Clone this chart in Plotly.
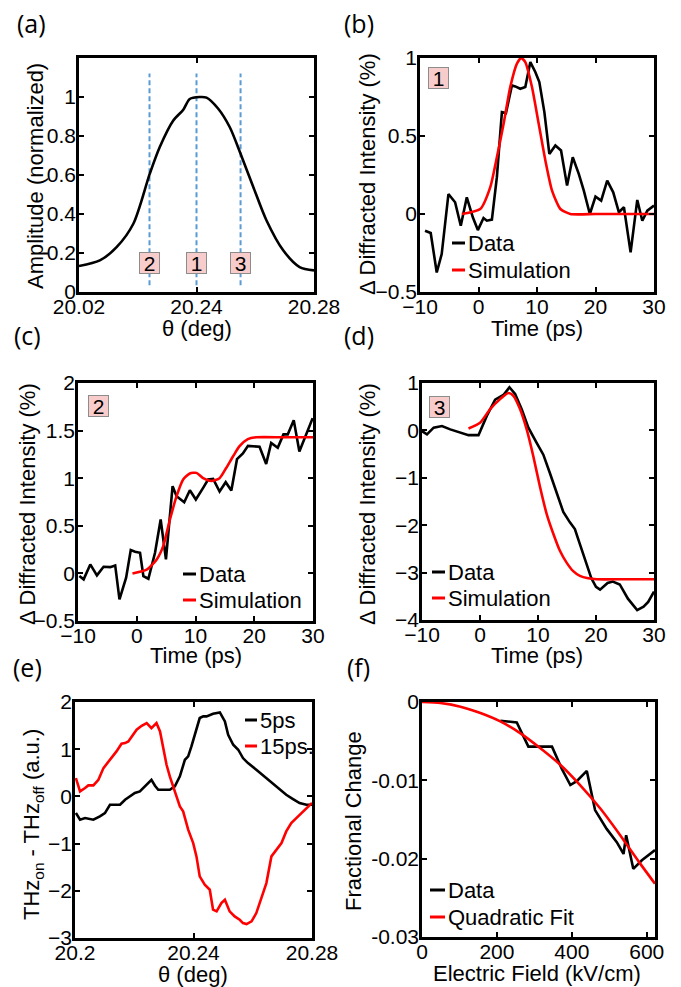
import plotly.graph_objects as go

W, H = 681, 987

# ---------------- data ----------------
# (a) rocking curve
a_theta = [20.2, 20.2071, 20.2128, 20.2185, 20.2241, 20.2275, 20.2321, 20.2355, 20.2377, 20.2411,
           20.2434, 20.2474, 20.2513, 20.2550, 20.2593, 20.2638, 20.2695, 20.2751, 20.28]
a_amp = [0.133, 0.162, 0.23, 0.35, 0.607, 0.744, 0.88, 0.935, 0.99, 1.0,
         0.997, 0.94, 0.846, 0.709, 0.54, 0.368, 0.214, 0.128, 0.111]
marker_theta = [20.224, 20.24, 20.255]
marker_labels = ["2", "1", "3"]
a_xticks = [20.2, 20.24, 20.28]
a_xticktext = ["20.02", "20.24", "20.28"]

# (b) position 1
b_t = [-9.14, -8.17, -7.14, -6.29, -5.14, -4.0, -3.03, -2.0, -0.97, -0.11, 0.86, 1.43, 2.29, 3.14, 4.0,
       4.69, 5.71, 6.29, 7.14, 8.0, 8.86, 9.71, 10.4, 11.26, 12.11, 13.14, 14.11, 15.14, 16.11, 17.14,
       18.0, 19.03, 20.0, 20.97, 22.0, 23.03, 24.0, 24.86, 26.0, 27.14, 28.0, 28.86, 30.0]
b_data = [-0.107, -0.122, -0.375, -0.257, 0.128, 0.075, -0.075, 0.107, -0.021, -0.103, -0.026, -0.043,
          -0.036, 0.236, 0.653, 0.647, 0.824, 0.818, 0.803, 0.814, 0.974, 0.91, 0.846, 0.653, 0.385,
          0.439, 0.407, 0.182, 0.364, 0.257, 0.15, 0.0, 0.111, 0.086, 0.214, 0.139, 0.011, 0.043,
          -0.246, 0.09, -0.043, 0.021, 0.054]
b_sim_t = [-2.86, 0.29, 2.0, 3.14, 4.29, 5.43, 6.57, 7.3, 8.0, 9.14, 10.29, 11.43, 12.57, 14.0, 15.7,
           20.0, 25.0, 30.0]
b_sim = [0.0, 0.032, 0.171, 0.364, 0.578, 0.814, 0.964, 1.0, 0.974, 0.814, 0.578, 0.343, 0.15, 0.032,
         0.0, 0.0, 0.0, 0.0]

# (c) position 2
c_t = [-9.77, -9.04, -7.91, -6.78, -5.65, -4.52, -3.67, -2.94, -1.81, -1.02, -0.28, 0.56, 1.13, 1.98,
       3.11, 4.07, 4.97, 6.10, 6.78, 8.08, 9.04, 10.06, 11.3, 12.15, 13.0, 14.1, 15.14, 16.1, 17.06,
       18.07, 18.93, 20.06, 20.9, 22.03, 22.88, 24.0, 24.97, 25.7, 26.72, 27.68, 28.8, 29.94]
c_data = [-0.028, -0.063, 0.094, -0.021, 0.07, 0.066, 0.084, -0.273, -0.045, 0.245, 0.227, 0.217,
          -0.028, -0.056, 0.217, 0.566, 0.147, 0.916, 0.811, 0.748, 0.874, 0.776, 0.899, 0.986, 0.993,
          0.86, 0.958, 0.87, 1.2, 1.26, 1.34, 1.33, 1.33, 1.15, 1.37, 1.32, 1.46, 1.46, 1.61, 1.28,
          1.46, 1.63]
c_sim_t = [-0.73, 1.7, 3.4, 4.5, 5.65, 6.78, 7.9, 9.04, 10.17, 11.3, 12.7, 14.1, 15.25, 16.4, 17.5,
           18.9, 20.3, 25.0, 30.0]
c_sim = [0.0, 0.04, 0.147, 0.287, 0.566, 0.811, 0.986, 1.05, 1.056, 1.0, 0.97, 1.0, 1.11, 1.23, 1.336,
         1.41, 1.43, 1.43, 1.43]

# (d) position 3
d_t = [-10.0, -9.14, -7.99, -6.56, -5.13, -3.41, -1.98, -0.26, 1.17, 2.61, 4.04, 5.07, 6.05, 7.19,
       8.34, 9.77, 10.92, 12.06, 13.21, 14.36, 15.5, 16.36, 17.22, 18.37, 19.2, 20.0, 20.7, 22.0,
       22.9, 24.1, 25.5, 27.1, 28.2, 29.0, 30.0]
d_data = [-0.014, -0.085, 0.057, 0.092, 0.021, -0.05, -0.1, -0.1, 0.306, 0.647, 0.747, 0.91, 0.768,
          0.448, 0.057, -0.263, -0.512, -0.903, -1.33, -1.72, -1.94, -2.08, -2.4, -2.82, -3.12, -3.3,
          -3.36, -3.22, -3.19, -3.25, -3.55, -3.79, -3.72, -3.62, -3.4]
d_sim_t = [-1.98, 0.0, 1.75, 3.47, 4.9, 5.76, 6.9, 8.05, 9.2, 10.34, 11.49, 12.64, 13.78, 14.93,
           16.07, 17.22, 18.65, 20.1, 25.0, 30.0]
d_sim = [0.04, 0.16, 0.45, 0.66, 0.79, 0.73, 0.45, 0.02, -0.55, -1.19, -1.76, -2.18, -2.54, -2.79,
         -2.97, -3.07, -3.12, -3.14, -3.14, -3.14]

# (e) THz on - off
e_theta_5 = [20.2003, 20.2017, 20.2034, 20.2051, 20.2062, 20.2084, 20.2101, 20.2118, 20.2135, 20.2152,
             20.2169, 20.2185, 20.2202, 20.2219, 20.2236, 20.2247, 20.2258, 20.2270, 20.2281, 20.2298,
             20.2320, 20.2337, 20.2354, 20.2371, 20.2382, 20.2393, 20.2410, 20.2421, 20.2433, 20.2444,
             20.2466, 20.2489, 20.2506, 20.2517, 20.2534, 20.2551, 20.2567, 20.2584, 20.2612, 20.2646,
             20.2680, 20.2713, 20.2736, 20.2758, 20.2781, 20.28]
e_val_5 = [-0.353, -0.494, -0.459, -0.473, -0.494, -0.424, -0.353, -0.177, -0.177, -0.177, -0.071,
           0.0, 0.071, 0.106, 0.212, 0.282, 0.353, 0.226, 0.141, 0.141, 0.141, 0.212, 0.424, 0.777,
           0.847, 1.059, 1.412, 1.66, 1.695, 1.695, 1.751, 1.780, 1.589, 1.307, 1.095, 0.989, 0.812,
           0.706, 0.565, 0.388, 0.212, 0.035, -0.056, -0.141, -0.177, -0.177]
e_theta_15 = [20.2003, 20.2017, 20.2034, 20.2045, 20.2062, 20.2079, 20.2096, 20.2118, 20.2140, 20.2157,
              20.2169, 20.2180, 20.2191, 20.2208, 20.2225, 20.2242, 20.2258, 20.2275, 20.2287, 20.2298,
              20.2309, 20.2320, 20.2331, 20.2343, 20.2354, 20.2365, 20.2382, 20.2399, 20.2410, 20.2421,
              20.2438, 20.2455, 20.2466, 20.2478, 20.2494, 20.2506, 20.2522, 20.2539, 20.2556, 20.2567,
              20.2579, 20.2596, 20.2612, 20.2629, 20.2646, 20.2663, 20.2680, 20.2697, 20.2713, 20.2730,
              20.2747, 20.2764, 20.2781, 20.28]
e_val_15 = [0.388, 0.106, 0.177, 0.233, 0.233, 0.353, 0.600, 0.777, 0.953, 1.116, 1.130, 1.165, 1.271,
            1.412, 1.497, 1.554, 1.448, 1.554, 1.377, 1.024, 0.671, 0.424, 0.212, 0.0, -0.212, -0.318,
            -0.706, -0.989, -1.271, -1.695, -1.871, -1.977, -2.401, -2.436, -2.260, -2.189, -2.436,
            -2.542, -2.613, -2.684, -2.705, -2.648, -2.472, -2.154, -1.836, -1.271, -1.130, -0.989,
            -0.742, -0.565, -0.459, -0.353, -0.247, -0.141]
e_xticks = [20.2, 20.24, 20.28]
e_xticktext = ["20.2", "20.24", "20.28"]

# (f) field dependence
f_field = [209, 253, 284, 347, 373, 396, 413, 440, 462, 493, 520, 538, 545, 564, 587, 622]
f_data = [-0.0024, -0.0026, -0.0057, -0.0057, -0.0085, -0.0106, -0.0101, -0.0088, -0.0138, -0.0162,
          -0.0179, -0.0194, -0.0170, -0.0213, -0.0202, -0.0189]
f_fit_field = [0, 49, 100, 156, 209, 262, 316, 369, 422, 476, 529, 582, 622]
f_fit = [0.0, -0.00013, -0.00056, -0.00141, -0.00248, -0.00397, -0.0059, -0.0080, -0.0106, -0.0136,
         -0.0170, -0.0206, -0.0232]

# legend labels
leg_bcd = ["Data", "Simulation"]
leg_e = ["5ps", "15ps."]
leg_f = ["Data", "Quadratic Fit"]

# ---------------- styling ----------------
FONT = "Liberation Sans"
BLACK = "black"
RED = "#ff0000"
BLUE = "#5b9bd5"
PINK = "#f9cccc"
LW = 2.6
FS = 21
FS_T = 22


def px(x):
    return x / W


def py(y):
    return 1 - y / H


# panel pixel boxes: (left, right, top, bottom)
boxes = {
    "a": (79, 314, 58, 292),
    "b": (420, 654, 58, 292),
    "c": (78, 313, 383, 621),
    "d": (422, 654, 383, 620),
    "e": (75, 312, 702, 938),
    "f": (422, 655, 702, 937),
}
order = ["a", "b", "c", "d", "e", "f"]

fig = go.Figure()

axis_common = dict(
    showline=True, linewidth=2.5, linecolor=BLACK, mirror="allticks",
    ticks="inside", ticklen=5, tickwidth=1.5, tickcolor=BLACK,
    showgrid=False, zeroline=False, automargin=False,
    tickfont=dict(family=FONT, size=FS, color=BLACK),
)

ranges = {
    "a": dict(x=[20.2, 20.28], y=[0, 1.2]),
    "b": dict(x=[-10, 30], y=[-0.5, 1]),
    "c": dict(x=[-10, 30], y=[-0.5, 2]),
    "d": dict(x=[-10, 30], y=[-4, 1]),
    "e": dict(x=[20.2, 20.28], y=[-3, 2]),
    "f": dict(x=[0, 622], y=[-0.03, 0]),
}

for i, k in enumerate(order):
    l, r, t, b = boxes[k]
    n = "" if i == 0 else str(i + 1)
    xa = dict(axis_common, domain=[px(l), px(r)], range=ranges[k]["x"], anchor="y" + n,
              ticklabelstandoff=-6)
    ya = dict(axis_common, domain=[py(b), py(t)], range=ranges[k]["y"], anchor="x" + n,
              ticklabelstandoff=-4)
    fig.update_layout(**{"xaxis" + n: xa, "yaxis" + n: ya})

# tick specifics
fig.update_layout(
    xaxis=dict(tickvals=a_xticks, ticktext=a_xticktext),
    yaxis=dict(tickvals=[0, 0.2, 0.4, 0.6, 0.8, 1]),
    xaxis2=dict(tickvals=[-10, 0, 10, 20, 30]),
    yaxis2=dict(tickvals=[-0.5, 0, 0.5, 1]),
    xaxis3=dict(tickvals=[-10, 0, 10, 20, 30]),
    yaxis3=dict(tickvals=[-0.5, 0, 0.5, 1, 1.5, 2]),
    xaxis4=dict(tickvals=[-10, 0, 10, 20, 30]),
    yaxis4=dict(tickvals=[-4, -3, -2, -1, 0, 1]),
    xaxis5=dict(tickvals=e_xticks, ticktext=e_xticktext),
    yaxis5=dict(tickvals=[-3, -2, -1, 0, 1, 2]),
    xaxis6=dict(tickvals=[0, 200, 400, 600]),
    yaxis6=dict(tickvals=[-0.03, -0.02, -0.01, 0], ticktext=["-0.03", "-0.02", "-0.01", "0"]),
)

# ---------------- traces ----------------
# (a)
dash_span = [0.035, 1.12]
for th in marker_theta:
    fig.add_trace(go.Scatter(x=[th, th], y=dash_span, mode="lines", showlegend=False,
                             line=dict(color=BLUE, width=2, dash="5px,3px"), xaxis="x", yaxis="y"))
fig.add_trace(go.Scatter(x=a_theta, y=a_amp, mode="lines", showlegend=False,
                         line=dict(color=BLACK, width=LW, shape="spline", smoothing=0.8),
                         xaxis="x", yaxis="y"))


def add_pair(xd, yd, xs, ys, axn, names, smooth=True):
    fig.add_trace(go.Scatter(x=xd, y=yd, mode="lines", name=names[0], showlegend=False,
                             line=dict(color=BLACK, width=LW), xaxis="x" + axn, yaxis="y" + axn))
    fig.add_trace(go.Scatter(x=xs, y=ys, mode="lines", name=names[1], showlegend=False,
                             line=dict(color=RED, width=LW, shape="spline" if smooth else "linear",
                                       smoothing=0.6),
                             xaxis="x" + axn, yaxis="y" + axn))


add_pair(b_t, b_data, b_sim_t, b_sim, "2", leg_bcd)
add_pair(c_t, c_data, c_sim_t, c_sim, "3", leg_bcd)
add_pair(d_t, d_data, d_sim_t, d_sim, "4", leg_bcd)
add_pair(e_theta_5, e_val_5, e_theta_15, e_val_15, "5", leg_e, smooth=False)
add_pair(f_field, f_data, f_fit_field, f_fit, "6", leg_f)

# ---------------- annotations & legend keys ----------------
ann = []
shapes = []

# compact MATLAB-style legends: short line key + label
legend_specs = [
    (leg_bcd, 452, 466, [243, 270]),
    (leg_bcd, 183, 197, [574, 600]),
    (leg_bcd, 432, 446, [572, 598]),
    (leg_e, 245, 258, [720, 746]),
    (leg_f, 430, 446, [890, 917]),
]
for labels, x0, x1, ys in legend_specs:
    for lab, col, yy in zip(labels, [BLACK, RED], ys):
        shapes.append(dict(type="line", xref="paper", yref="paper",
                           x0=px(x0), x1=px(x1 - 1), y0=py(yy), y1=py(yy),
                           line=dict(color=col, width=3)))
        ann.append(dict(text=lab, x=px(x1), y=py(yy), xref="paper", yref="paper",
                        showarrow=False, xanchor="left", yanchor="middle",
                        font=dict(family=FONT, size=FS_T, color=BLACK)))

# panel letters
for txt, x, y in [("(a)", 31, 23), ("(b)", 359, 23), ("(c)", 27, 335),
                  ("(d)", 359, 335), ("(e)", 27, 667), ("(f)", 358, 667)]:
    ann.append(dict(text=txt, x=px(x), y=py(y), xref="paper", yref="paper", showarrow=False,
                    xanchor="center", yanchor="middle",
                    font=dict(family="Open Sans", size=25, color=BLACK)))

# axis titles (x)
for txt, x, y in [("θ (deg)", 197, 328), ("Time (ps)", 537, 328), ("Time (ps)", 196, 655),
                  ("Time (ps)", 537, 655), ("θ (deg)", 193, 974), ("Electric Field (kV/cm)", 537, 973)]:
    ann.append(dict(text=txt, x=px(x), y=py(y), xref="paper", yref="paper", showarrow=False,
                    xanchor="center", yanchor="middle", font=dict(family=FONT, size=FS_T, color=BLACK)))

# axis titles (y)
for txt, x, y in [("Amplitude (normalized)", 35, 176),
                  ("Δ Diffracted Intensity (%)", 368, 174),
                  ("Δ Diffracted Intensity (%)", 28, 504),
                  ("Δ Diffracted Intensity (%)", 368, 504),
                  ("THz<sub>on</sub> - THz<sub>off</sub> (a.u.)", 33, 825),
                  ("Fractional Change", 353, 821)]:
    ann.append(dict(text=txt, x=px(x), y=py(y), xref="paper", yref="paper", showarrow=False,
                    textangle=-90, xanchor="center", yanchor="middle",
                    font=dict(family=FONT, size=FS_T, color=BLACK)))

# number boxes in (a)
for th, lab in zip(marker_theta, marker_labels):
    ann.append(dict(text=lab, x=th, y=0.15, xref="x", yref="y", showarrow=False,
                    bgcolor=PINK, bordercolor="#8c8c8c", borderwidth=1, borderpad=0,
                    width=19, height=20, font=dict(family=FONT, size=FS, color=BLACK)))

# number boxes in (b), (c), (d)
for lab, x, y in [("1", 438, 78), ("2", 98, 406), ("3", 439, 407)]:
    ann.append(dict(text=lab, x=px(x), y=py(y), xref="paper", yref="paper", showarrow=False,
                    xanchor="center", yanchor="middle",
                    bgcolor=PINK, bordercolor="#8c8c8c", borderwidth=1, borderpad=0,
                    width=19, height=20, font=dict(family=FONT, size=FS, color=BLACK)))

fig.update_layout(
    template="none",
    width=W, height=H, margin=dict(l=0, r=0, t=0, b=0, autoexpand=False),
    paper_bgcolor="white", plot_bgcolor="white",
    annotations=ann, shapes=shapes, showlegend=False,
)

fig.write_html("out.html")
